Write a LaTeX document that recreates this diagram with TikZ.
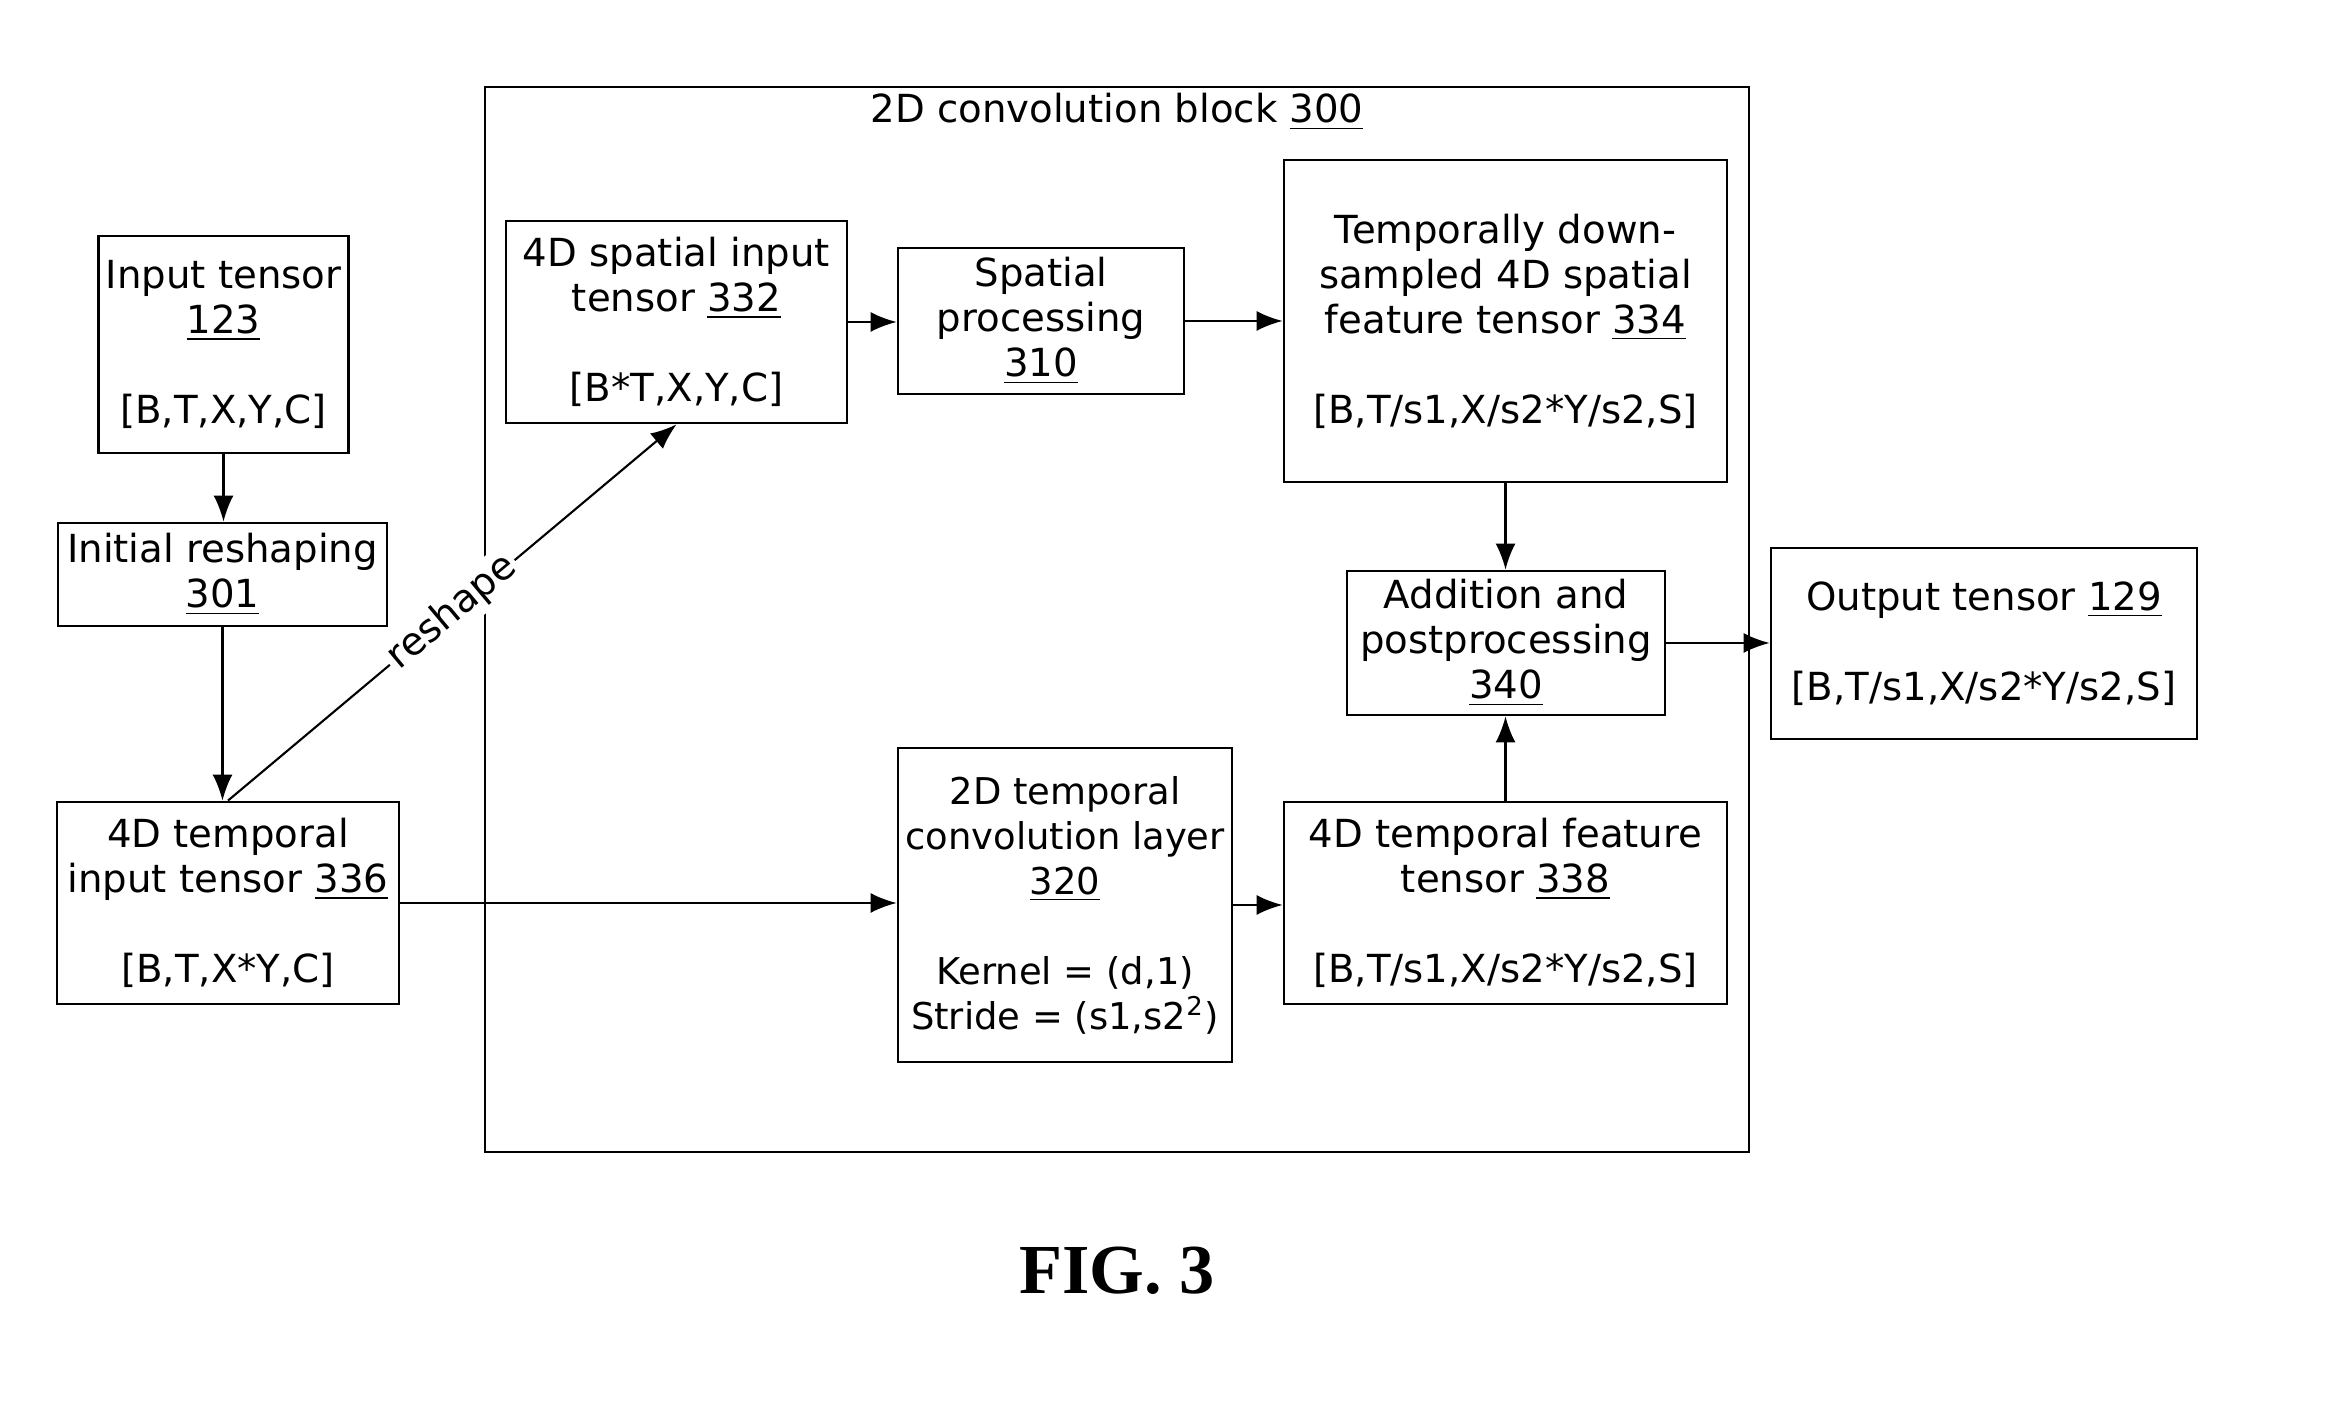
\documentclass[tikz,border=0pt]{standalone}
\usepackage{fontspec}
\setmainfont{DejaVu Sans}
\newfontfamily\figfont{Liberation Serif}
\usetikzlibrary{arrows.meta}

\begin{document}
\begin{tikzpicture}[
  box/.style={rectangle,draw,line width=0.8pt,align=center,
              font=\fontsize{11}{12.8}\selectfont,inner sep=2pt},
  lbl/.style={align=center,font=\fontsize{11}{12.8}\selectfont},
  arrow/.style={-{Latex[length=2.6mm,width=2mm]},line width=0.6pt},
  >=Latex
]
\useasboundingbox (0,0) rectangle (23.42,14.21);

% the convolution block around the inner stages
\node[box,minimum width=12.64cm,minimum height=10.65cm] (block) at (11.17,8.015) {};
\node[lbl] (blocktitle) at (11.17,13.09) {2D convolution block \underline{300}};

% left column
\node[box,minimum width=2.49cm,minimum height=2.17cm] (inp) at (2.235,10.765)
  {Input tensor\\\underline{123}\\[12.8pt]{[B,T,X,Y,C]}};
\node[box,minimum width=3.29cm,minimum height=1.03cm] (init) at (2.225,8.465)
  {Initial reshaping\\\underline{301}};
\node[box,minimum width=3.42cm,minimum height=2.02cm] (tin) at (2.28,5.18)
  {4D temporal\\input tensor \underline{336}\\[12.8pt]{[B,T,X*Y,C]}};

% spatial path
\node[box,minimum width=3.41cm,minimum height=2.02cm] (sin) at (6.765,10.99)
  {4D spatial input\\tensor \underline{332}\\[12.8pt]{[B*T,X,Y,C]}};
\node[box,minimum width=2.86cm,minimum height=1.46cm] (spat) at (10.41,11.0)
  {Spatial\\processing\\\underline{310}};
\node[box,minimum width=4.43cm,minimum height=3.22cm] (sfeat) at (15.055,11.0)
  {Temporally down-\\sampled 4D spatial\\feature tensor \underline{334}\\[12.8pt]{[B,T/s1,X/s2*Y/s2,S]}};

% temporal path
\node[box,minimum width=3.34cm,minimum height=3.14cm,inner sep=1pt,
      font=\fontsize{10.5}{12.8}\selectfont] (conv) at (10.65,5.16)
  {2D temporal\\convolution layer\\\underline{320}\\[12.8pt]Kernel = (d,1)\\Stride = (s1,s2\textsuperscript{2})};
\node[box,minimum width=4.43cm,minimum height=2.02cm] (tfeat) at (15.055,5.18)
  {4D temporal feature\\tensor \underline{338}\\[12.8pt]{[B,T/s1,X/s2*Y/s2,S]}};

% merge and output
\node[box,minimum width=3.18cm,minimum height=1.44cm] (add) at (15.06,7.78)
  {Addition and\\postprocessing\\\underline{340}};
\node[box,minimum width=4.26cm,minimum height=1.91cm] (out) at (19.84,7.775)
  {Output tensor \underline{129}\\[12.8pt]{[B,T/s1,X/s2*Y/s2,S]}};

\draw[arrow] (inp.south) -- (inp.south |- init.north);
\draw[arrow] (init.south) -- (init.south |- tin.north);
\draw[arrow] (tin.north) -- node[sloped,fill=white,inner sep=1pt,lbl] {reshape} (sin.south);
\draw[arrow] (tin.east) -- (tin.east -| conv.west);

\draw[arrow] (sin.east) -- (sin.east -| spat.west);
\draw[arrow] (spat.east) -- (spat.east -| sfeat.west);
\draw[arrow] (sfeat.south) -- (sfeat.south |- add.north);

\draw[arrow] (conv.east) -- (conv.east -| tfeat.west);
\draw[arrow] (tfeat.north) -- (tfeat.north |- add.south);
\draw[arrow] (add.east) -- (add.east -| out.west);

\node[font=\figfont\bfseries\fontsize{20}{24}\selectfont] (fig) at (11.17,1.50) {FIG. 3};
\end{tikzpicture}
\end{document}
